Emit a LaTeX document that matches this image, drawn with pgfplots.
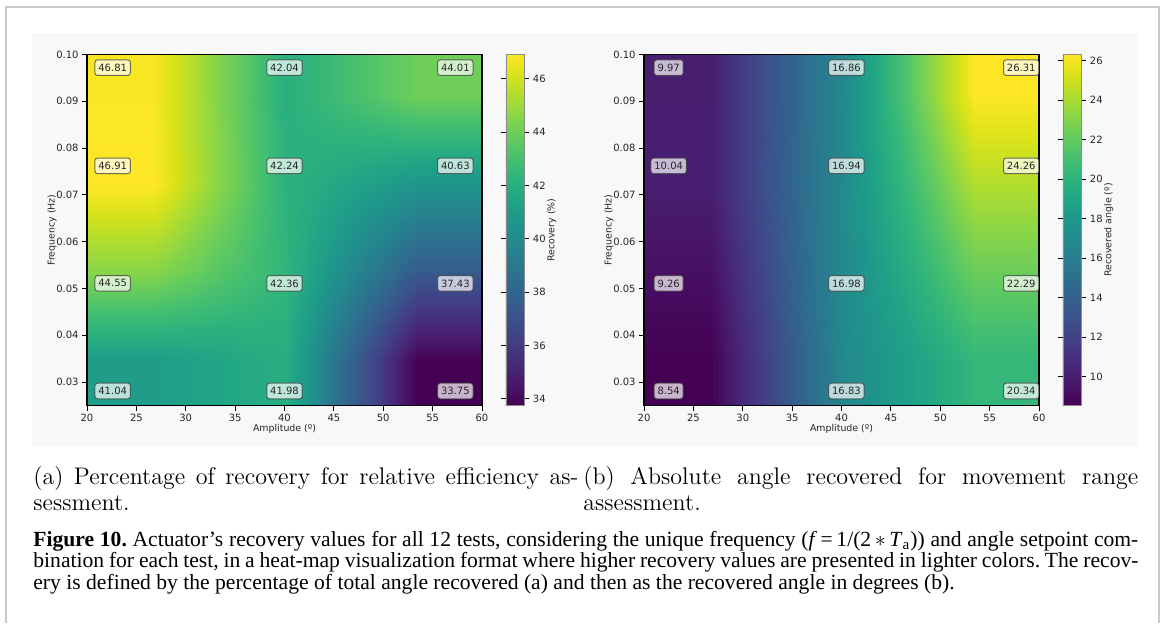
\documentclass[border=0pt]{standalone}
\usepackage{fontspec}
\usepackage{pgfplots}
\usepackage{pgfplotstable}
\pgfplotsset{compat=1.18}
\usepgfplotslibrary{patchplots}
\newfontfamily\dejavu{DejaVu Sans}
\newfontfamily\capfont{Liberation Serif}
\definecolor{panelgray}{RGB}{248,248,248}
\definecolor{framegray}{RGB}{200,200,200}
\newcommand\tickfont{\dejavu\fontsize{5}{6}\selectfont}
\newcommand\labfont{\dejavu\fontsize{4.7}{6}\selectfont}

% recovery (%) and recovered angle per test, cell centres of the 3x4 grid,
% edge rows/columns repeat the outer cells so the map fills the axis
\pgfplotstableread{
a      f        rec   ang
20     0.025    41.04 8.54
26.667 0.025    41.04 8.54
40     0.025    41.98 16.83
53.333 0.025    33.75 20.34
60     0.025    33.75 20.34
20     0.034375 41.04 8.54
26.667 0.034375 41.04 8.54
40     0.034375 41.98 16.83
53.333 0.034375 33.75 20.34
60     0.034375 33.75 20.34
20     0.053125 44.55 9.26
26.667 0.053125 44.55 9.26
40     0.053125 42.36 16.98
53.333 0.053125 37.43 22.29
60     0.053125 37.43 22.29
20     0.071875 46.91 10.04
26.667 0.071875 46.91 10.04
40     0.071875 42.24 16.94
53.333 0.071875 40.63 24.26
60     0.071875 40.63 24.26
20     0.090625 46.81 9.97
26.667 0.090625 46.81 9.97
40     0.090625 42.04 16.86
53.333 0.090625 44.01 26.31
60     0.090625 44.01 26.31
20     0.1      46.81 9.97
26.667 0.1      46.81 9.97
40     0.1      42.04 16.86
53.333 0.1      44.01 26.31
60     0.1      44.01 26.31
}\grid

% annotation positions
\pgfplotstableread{
xa   xb   f      rec   ang
22.6 22.5 0.0972 46.81 9.97
40.0 40.5 0.0972 42.04 16.86
57.3 58.2 0.0972 44.01 26.31
22.6 22.5 0.0762 46.91 10.04
40.0 40.5 0.0762 42.24 16.94
57.3 58.2 0.0762 40.63 24.26
22.6 22.5 0.0511 44.55 9.26
40.0 40.5 0.0511 42.36 16.98
57.3 58.2 0.0511 37.43 22.29
22.6 22.5 0.0281 41.04 8.54
40.0 40.5 0.0281 41.98 16.83
57.3 58.2 0.0281 33.75 20.34
}\labels

\pgfplotsset{
  heat/.style={
    scale only axis, width=197.5pt, height=175.5pt,
    anchor=south west,
    xmin=20, xmax=60, ymin=0.025, ymax=0.1,
    xtick={20,25,30,35,40,45,50,55,60},
    ytick={0.03,0.04,0.05,0.06,0.07,0.08,0.09,0.1},
    axis on top,
    tick align=outside, tick pos=left,
    major tick length=2.5pt,
    every tick/.style={black, line width=0.45pt},
    axis line style={line width=0.6pt},
    ticklabel style={font=\tickfont, text=black!85, inner sep=1.5pt},
    yticklabel style={/pgf/number format/.cd, fixed, fixed zerofill, precision=2},
    /pgf/number format/assume math mode=true,
    xlabel={Amplitude (º)},
    ylabel={Frequency (Hz)},
    every axis x label/.style={at={(axis description cs:0.5,-0.066)}, anchor=center,
      font=\labfont, text=black!85},
    every axis y label/.style={at={(axis description cs:-0.0886,0.5)}, rotate=90, anchor=center,
      font=\labfont, text=black!85},
    colormap name=viridis,
    colorbar,
  },
  % the default colorbar already shifts 0.3cm; 3.46pt more gives the 12pt gap
  cbar/.style={
    at={(parent axis.north east)}, anchor=north west, xshift=3.46pt,
    scale only axis, width=9pt, height=175.5pt,
    tick align=outside, major tick length=2.5pt,
    yticklabel pos=right,
    every tick/.style={black, line width=0.45pt},
    axis line style={line width=0.3pt, draw=black!45},
    ticklabel style={font=\tickfont, text=black!85, inner sep=1.8pt},
    /pgf/number format/assume math mode=true,
    every axis y label/.style={at={(axis description cs:2.55,0.5)}, rotate=90, anchor=center,
      font=\labfont, text=black!85},
  },
  tag/.style={
    draw=none, mark=none, nodes near coords,
    point meta=explicit symbolic,
    nodes near coords style={anchor=center, font=\tickfont, text=black!85,
      fill=white, fill opacity=0.7, text opacity=1,
      draw=black!75, draw opacity=0.75, line width=0.5pt,
      rounded corners=1.3pt, inner xsep=1.7pt, inner ysep=2pt},
  },
}

\begin{document}
\begin{tikzpicture}
\begin{scope}[x=0.5pt, y=-0.5pt]
  \useasboundingbox (0,0) rectangle (1168,623);
  \draw[framegray, line width=1pt] (6,623) -- (6,7) -- (1159,7) -- (1159,623);
  \fill[panelgray] (32,33) rectangle (1138,446);
  \coordinate (A) at (87,405.5);
  \coordinate (B) at (644,405.5);
\end{scope}

\begin{axis}[heat, at={(A)},
  point meta min=33.75, point meta max=46.91,
  colorbar style={cbar, ytick={34,36,38,40,42,44,46}, ylabel={Recovery (\%)}}]
\addplot[surf, shader=interp, patch type=bilinear, mesh/cols=5, point meta=\thisrow{rec}]
  table[x=a, y=f] {\grid};
\addplot[tag] table[x=xa, y=f, meta=rec] {\labels};
\end{axis}

\begin{axis}[heat, at={(B)},
  point meta min=8.54, point meta max=26.31,
  colorbar style={cbar, ytick={10,12,14,16,18,20,22,24,26}, ylabel={Recovered angle (º)}}]
\addplot[surf, shader=interp, patch type=bilinear, mesh/cols=5, point meta=\thisrow{ang}]
  table[x=a, y=f] {\grid};
\addplot[tag] table[x=xb, y=f, meta=ang] {\labels};
\end{axis}

\begin{scope}[x=0.5pt, y=-0.5pt]
  \node[anchor=base west, inner sep=0pt] at (33,484)
    {\parbox[t]{272.5pt}{\fontsize{12}{13.25}\selectfont
     (a) Percentage of recovery for relative efficiency as-\linebreak sessment.}};
  \node[anchor=base west, inner sep=0pt] at (583,484)
    {\parbox[t]{277.5pt}{\fontsize{12}{13.25}\selectfont
     (b) Absolute angle recovered for movement range\linebreak assessment.}};
  \node[anchor=base west, inner sep=0pt] at (33,546)
    {\parbox[t]{552.5pt}{\capfont\frenchspacing\fontsize{10.8}{10.8}\selectfont
     \textbf{Figure 10.} Actuator’s recovery values for all 12 tests, considering the unique frequency
     (\textit{f}\,=\,1/(2\,$\ast$\,\textit{T}\textsubscript{a})) and angle setpoint com-\linebreak
     bination for each test, in a heat-map visualization format where higher recovery values are
     presented in lighter colors. The recov-\linebreak ery is defined by the percentage of total
     angle recovered (a) and then as the recovered angle in degrees (b).}};
\end{scope}
\end{tikzpicture}
\end{document}
